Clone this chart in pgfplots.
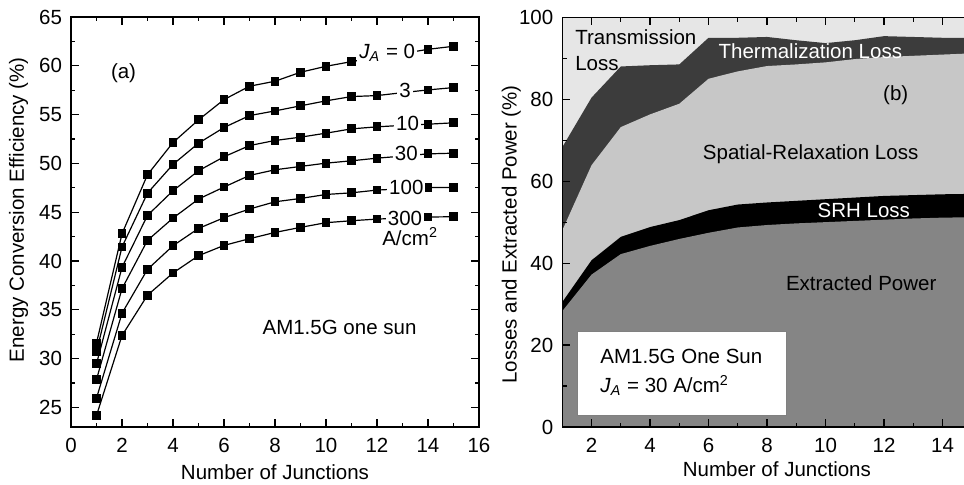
\documentclass[border=0pt]{standalone}
\usepackage{pgfplots}
\pgfplotsset{compat=1.18}
\usepackage{fontspec}
\setmainfont{Liberation Sans}
\definecolor{cExt}{RGB}{133,133,133}
\definecolor{cSpat}{RGB}{199,199,199}
\definecolor{cTherm}{RGB}{60,60,60}
\definecolor{cTrans}{RGB}{230,230,230}
\pgfplotsset{
  common/.style={
    scale only axis,
    set layers,
    tick align=inside,
    major tick length=4bp, minor tick length=2.2bp,
    every tick/.style={black, line width=0.6bp},
    axis line style={line width=0.7bp},
    /pgf/number format/assume math mode=true,
    tick label style={font=\fontsize{10.25bp}{12bp}\selectfont},
    label style={font=\fontsize{10.25bp}{12bp}\selectfont},
    xticklabel style={yshift=-2bp},
    yticklabel style={xshift=-1bp},
  },
  cur/.style={black, line width=0.6bp, mark=square*, mark size=1.9bp, mark options={solid}},
}
\begin{document}
\begin{tikzpicture}[x=1bp,y=1bp,font=\fontsize{10.25bp}{12.3bp}\selectfont]
% ---------------- left panel ----------------
\begin{axis}[common,
  at={(0bp,0bp)}, anchor=south west,
  width=204bp, height=205bp,
  xmin=0, xmax=16, ymin=23, ymax=65,
  xtick={0,2,...,16}, minor xtick={1,3,...,15},
  ytick={25,30,...,65}, minor ytick={27.5,32.5,...,62.5},
  xlabel={Number of Junctions},
  ylabel={Energy Conversion Efficiency (\%)},
  xlabel style={at={(axis description cs:0.5,-0.111)}, anchor=center},
  ylabel style={at={(axis description cs:-0.1287,0.53)}, anchor=center},
]
\addplot[cur] coordinates {(1,31.6) (2,42.8) (3,48.84) (4,52.14) (5,54.46) (6,56.54) (7,57.91) (8,58.42) (9,59.34) (10,59.95) (11,60.43) (12,60.85) (13,61.25) (14,61.69) (15,62.0)};
\addplot[cur] coordinates {(1,30.7) (2,41.44) (3,46.96) (4,49.9) (5,52.07) (6,53.68) (7,54.9) (8,55.38) (9,55.9) (10,56.41) (11,56.85) (12,56.95) (13,57.25) (14,57.53) (15,57.77)};
\addplot[cur] coordinates {(1,29.47) (2,39.35) (3,44.68) (4,47.2) (5,49.25) (6,50.68) (7,51.83) (8,52.35) (9,52.69) (10,53.1) (11,53.54) (12,53.75) (13,53.9) (14,54.02) (15,54.16)};
\addplot[cur] coordinates {(1,27.86) (2,37.17) (3,42.12) (4,44.4) (5,46.35) (6,47.58) (7,48.77) (8,49.35) (9,49.69) (10,50.03) (11,50.27) (12,50.54) (13,50.75) (14,50.98) (15,51.05)};
\addplot[cur] coordinates {(1,25.95) (2,34.65) (3,39.15) (4,41.57) (5,43.34) (6,44.44) (7,45.33) (8,46.07) (9,46.41) (10,46.82) (11,46.99) (12,47.27) (13,47.4) (14,47.54) (15,47.54)};
\addplot[cur] coordinates {(1,24.18) (2,32.37) (3,36.5) (4,38.78) (5,40.55) (6,41.6) (7,42.29) (8,42.93) (9,43.45) (10,43.93) (11,44.13) (12,44.3) (13,44.4) (14,44.51) (15,44.54)};
\begin{pgfonlayer}{axis foreground}
\node[fill=white, inner sep=1bp] at (axis cs:12.4,61.3) {\textit{J}\textsubscript{\textit{A}} = 0};
\node[fill=white, inner sep=1bp] at (axis cs:13.1,57.46) {3};
\node[fill=white, inner sep=1bp] at (axis cs:13.2,54.1) {10};
\node[fill=white, inner sep=1bp] at (axis cs:13.15,50.98) {30};
\node[fill=white, inner sep=1bp] at (axis cs:13.15,47.54) {100};
\node[fill=white, inner sep=1bp] at (axis cs:13.1,44.4) {300};
\node at (axis cs:13.3,42.5) {A/cm\textsuperscript{2}};
\node at (axis cs:2.06,59.2) {(a)};
\node at (axis cs:10.53,33.23) {AM1.5G one sun};
\end{pgfonlayer}
\end{axis}
% ---------------- right panel ----------------
\begin{axis}[common,
  at={(245.65bp,0bp)}, anchor=south west,
  width=204.75bp, height=204.85bp,
  xmin=1, xmax=15, ymin=0, ymax=100,
  axis on top,
  xtick={2,4,...,14}, minor xtick={1,3,...,15},
  ytick={0,20,...,100}, minor ytick={10,30,...,90},
  xlabel={Number of Junctions},
  ylabel={Losses and Extracted Power (\%)},
  xlabel style={at={(axis description cs:0.524,-0.1025)}, anchor=center},
  ylabel style={at={(axis description cs:-0.1245,0.47)}, anchor=center},
]
\addplot[fill=cTrans, draw=none] coordinates {(1,100) (15,100)} \closedcycle;
\addplot[fill=cTherm, draw=none] coordinates {(1,68.3) (2,80.4) (3,88.0) (4,88.3) (5,88.5) (6,95.0) (7,95.0) (8,95.2) (9,94.4) (10,93.7) (11,94.4) (12,95.4) (13,95.2) (14,95.0) (15,95.0)} \closedcycle;
\addplot[fill=cSpat, draw=none] coordinates {(1,48.0) (2,63.9) (3,73.2) (4,76.3) (5,78.9) (6,85.0) (7,86.8) (8,88.1) (9,88.5) (10,89.0) (11,89.8) (12,90.3) (13,90.6) (14,90.9) (15,91.2)} \closedcycle;
\addplot[fill=black, draw=none] coordinates {(1,30.5) (2,40.7) (3,46.4) (4,48.8) (5,50.5) (6,52.9) (7,54.3) (8,54.8) (9,55.2) (10,55.6) (11,56.0) (12,56.4) (13,56.6) (14,56.8) (15,56.9)} \closedcycle;
\addplot[fill=cExt, draw=none] coordinates {(1,28.3) (2,37.2) (3,42.2) (4,44.2) (5,45.9) (6,47.4) (7,48.7) (8,49.3) (9,49.7) (10,50.0) (11,50.3) (12,50.6) (13,50.9) (14,51.1) (15,51.2)} \closedcycle;
\begin{pgfonlayer}{axis foreground}
\node[align=left, anchor=west, inner sep=0pt, font=\fontsize{10.25bp}{12.9bp}\selectfont] at (axis cs:1.43,92.05) {Transmission\\Loss};
\node[white] at (axis cs:9.48,91.7) {Thermalization Loss};
\node at (axis cs:12.4,81.0) {(b)};
\node at (axis cs:9.49,66.6) {Spatial-Relaxation Loss};
\node[white] at (axis cs:11.31,52.9) {SRH Loss};
\node at (axis cs:11.22,35.2) {Extracted Power};
\draw[fill=white, draw=gray, line width=0.5bp] (axis cs:1.51,2.86) rectangle (axis cs:8.67,23.2);
\node[anchor=west, inner sep=0pt] at (axis cs:2.29,17.26) {AM1.5G One Sun};
\node[anchor=west, inner sep=0pt] at (axis cs:2.29,10.2) {\textit{J}\textsubscript{\textit{A}} = 30 A/cm\textsuperscript{2}};
\end{pgfonlayer}
\end{axis}
\pgfresetboundingbox
\path[use as bounding box] (-35.5bp,-29bp) rectangle (446.5bp,213.5bp);
\end{tikzpicture}
\end{document}
